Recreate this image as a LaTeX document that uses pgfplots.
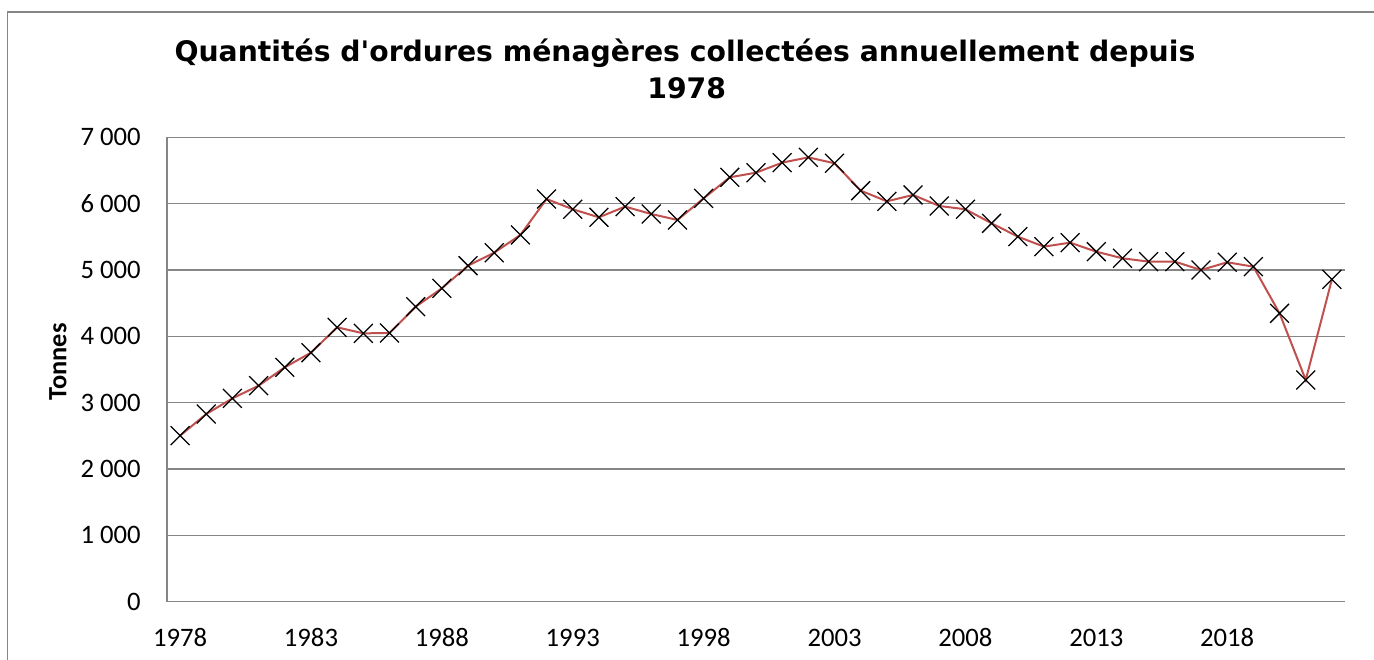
\documentclass[border=0pt]{standalone}
\usepackage{fontspec}
\setmainfont{Carlito}
\newfontfamily\titlefont{DejaVu Sans}
\usepackage{pgfplots}
\pgfplotsset{compat=1.18}
\definecolor{exred}{RGB}{192,80,77}
\definecolor{gridgray}{RGB}{134,134,134}
\begin{document}
\begin{tikzpicture}
\path[use as bounding box] (0,0) rectangle (1030.5pt,495pt);
\draw[gridgray, line width=0.9pt] (5.5pt,0) -- (5.5pt,486pt) -- (1030.5pt,486pt);
\node[font=\titlefont\bfseries\fontsize{21.2}{25}\selectfont, anchor=center] at (513.75pt,455.25pt) {Quantités d'ordures ménagères collectées annuellement depuis};
\node[font=\titlefont\bfseries\fontsize{21.2}{25}\selectfont, anchor=center] at (515pt,429pt) {1978};
\node[font=\bfseries\fontsize{19.8}{23}\selectfont, rotate=90, anchor=center] at (43.5pt,223.5pt) {Tonnes};
\begin{axis}[
  at={(125.25pt,43.725pt)}, anchor=south west,
  scale only axis, width=883.5pt, height=348.3pt,
  xmin=1977.5, xmax=2022.5, ymin=0, ymax=7000,
  axis x line*=bottom, axis y line*=left,
  axis line style={gridgray, line width=0.9pt, -},
  ymajorgrids, grid style={gridgray, line width=0.9pt},
  major tick length=0pt,
  xtick={1978,1983,1988,1993,1998,2003,2008,2013,2018},
  xticklabels={1978,1983,1988,1993,1998,2003,2008,2013,2018},
  ytick={0,1000,2000,3000,4000,5000,6000,7000},
  yticklabels={0,1~000,2~000,3~000,4~000,5~000,6~000,7~000},
  tick label style={font=\fontsize{20}{24}\selectfont},
  yticklabel style={anchor=east, inner sep=0pt, xshift=-19.6pt},
  xticklabel style={anchor=center, inner sep=0pt, yshift=-27pt},
  clip=false,
]
\addplot[exred, line width=1.5pt, mark=x, mark size=10pt,
  mark options={black, line width=0.95pt, solid}] coordinates {
(1978,2503) (1979,2829) (1980,3065) (1981,3256) (1982,3533)
(1983,3754) (1984,4136) (1985,4045) (1986,4050) (1987,4447)
(1988,4724) (1989,5065) (1990,5261) (1991,5528) (1992,6070)
(1993,5915) (1994,5794) (1995,5955) (1996,5844) (1997,5754)
(1998,6080) (1999,6397) (2000,6467) (2001,6618) (2002,6698)
(2003,6608) (2004,6196) (2005,6035) (2006,6131) (2007,5965)
(2008,5915) (2009,5704) (2010,5503) (2011,5352) (2012,5412)
(2013,5276) (2014,5176) (2015,5126) (2016,5126) (2017,5000)
(2018,5116) (2019,5050) (2020,4347) (2021,3342) (2022,4859)
};
\end{axis}
\end{tikzpicture}
\end{document}
